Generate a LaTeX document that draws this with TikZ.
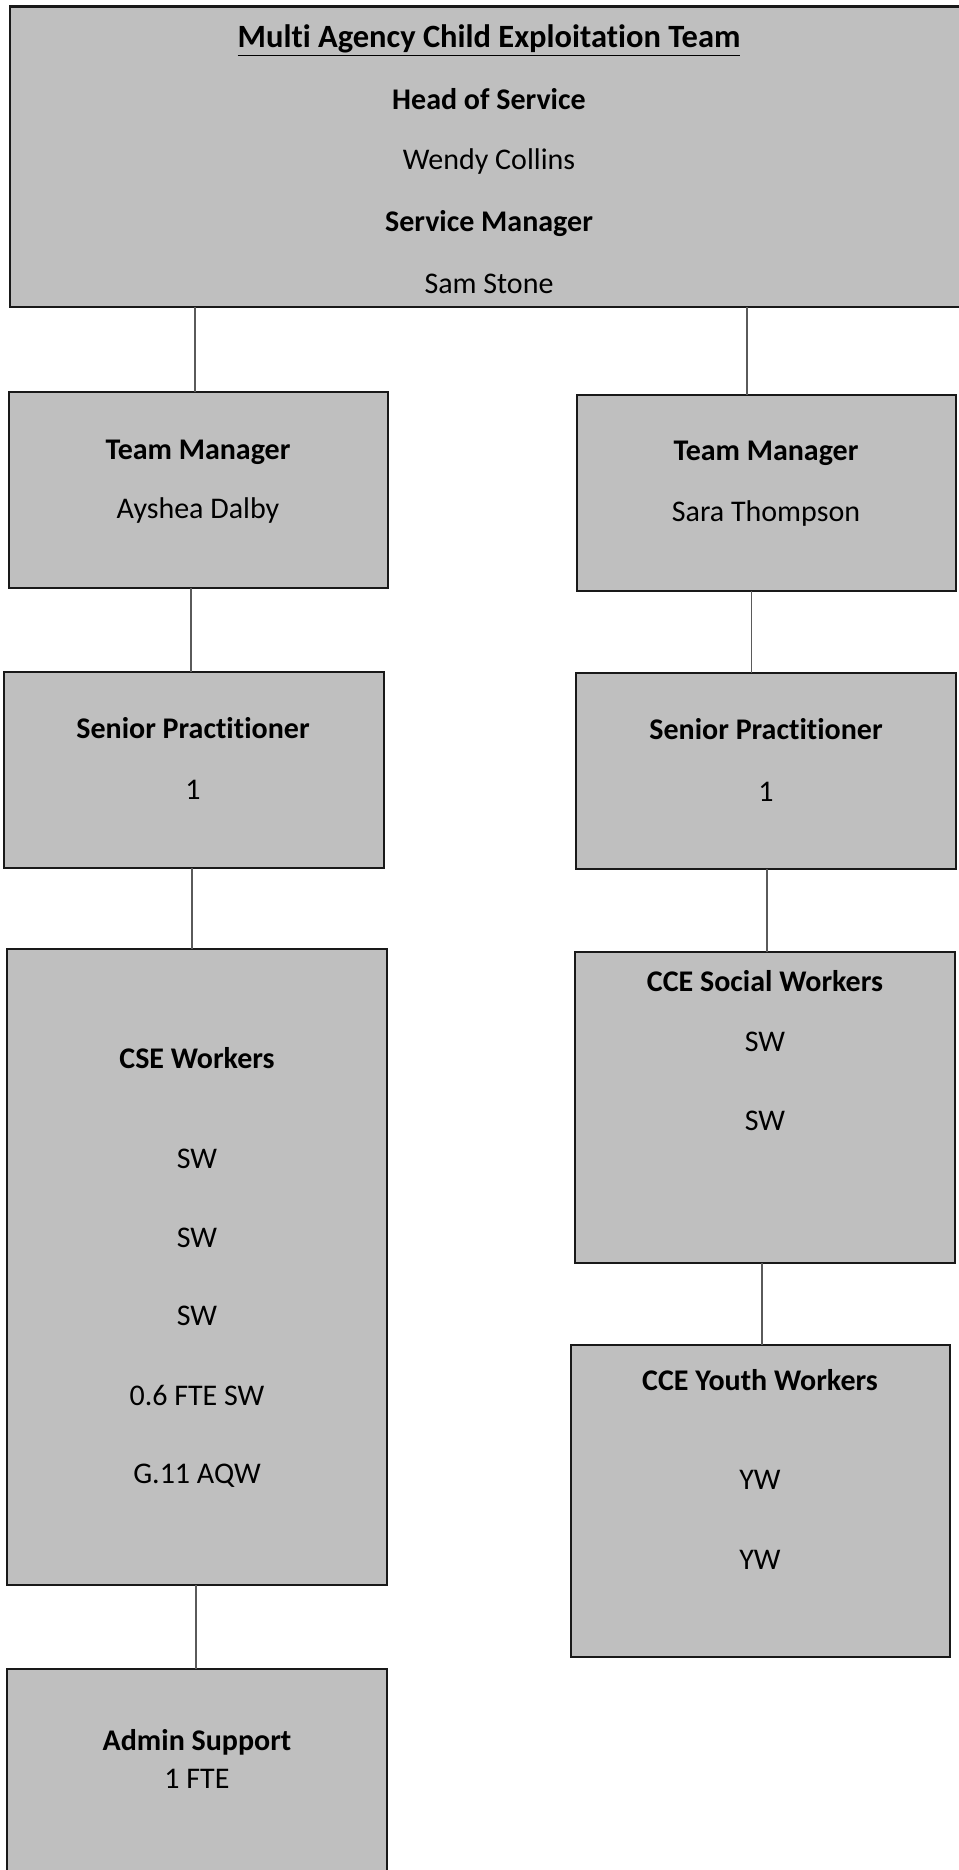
\documentclass[tikz,border=0pt]{standalone}
\usepackage{fontspec}
\setmainfont{Carlito}[Ligatures={NoCommon}]
\definecolor{boxgray}{RGB}{191,191,191}
\definecolor{linegray}{RGB}{90,90,90}
\begin{document}
\begin{tikzpicture}[x=1pt,y=-1pt,
  box/.style={draw=black!90, line width=2.4pt, fill=boxgray, inner sep=0pt, outer sep=0pt, rectangle},
  conn/.style={draw=linegray, line width=1.3pt},
  hd/.style={font=\fontsize{30}{36}\selectfont\bfseries, inner sep=0pt, anchor=base},
  ttl/.style={font=\fontsize{32.5}{38}\selectfont\bfseries, inner sep=0pt, anchor=base},
  tx/.style={font=\fontsize{30}{36}\selectfont, inner sep=0pt, anchor=base}]
\useasboundingbox[fill=white] (0,0) rectangle (958,1870);

% boxes
\node[box, minimum width=958pt, minimum height=300.5pt] (top) at (489,156.75) {};
\node[box, minimum width=379pt, minimum height=196pt] (tm1) at (198.5,490) {};
\node[box, minimum width=379pt, minimum height=196pt] (tm2) at (766.5,493) {};
\node[box, minimum width=380pt, minimum height=196pt] (sp1) at (194,770) {};
\node[box, minimum width=380pt, minimum height=196pt] (sp2) at (766,771) {};
\node[box, minimum width=380pt, minimum height=636pt] (cse) at (197,1267) {};
\node[box, minimum width=380pt, minimum height=311pt] (ccesw) at (765,1107.5) {};
\node[box, minimum width=379pt, minimum height=312pt] (yw) at (760.5,1501) {};
\node[box, minimum width=380pt, minimum height=240pt] (adm) at (197,1789) {};

% connectors
\draw[conn] ([xshift=-3.5pt]tm1.north) -- ([xshift=-3.5pt]tm1.north |- top.south);
\draw[conn] ([xshift=-19.5pt]tm2.north) -- ([xshift=-19.5pt]tm2.north |- top.south);
\draw[conn] ([xshift=-3pt]sp1.north) -- ([xshift=-3pt]sp1.north |- tm1.south);
\draw[conn] ([xshift=-14.5pt]sp2.north) -- ([xshift=-14.5pt]sp2.north |- tm2.south);
\draw[conn] ([xshift=-5pt]cse.north) -- ([xshift=-5pt]cse.north |- sp1.south);
\draw[conn] ([xshift=2pt]ccesw.north) -- ([xshift=2pt]ccesw.north |- sp2.south);
\draw[conn] ([xshift=1.5pt]yw.north) -- ([xshift=1.5pt]yw.north |- ccesw.south);
\draw[conn] ([xshift=-1pt]adm.north) -- ([xshift=-1pt]adm.north |- cse.south);

% top texts
\node[ttl] (t1) at (489,48) {\underline{Multi Agency Child Exploitation Team}};
\node[hd] (t2) at (489,110) {Head of Service};
\node[tx] (t3) at (489,170) {Wendy Collins};
\node[hd] (t4) at (489,232) {Service Manager};
\node[tx] (t5) at (489,293) {Sam Stone};

% team managers
\node[hd] (a1) at (198,459) {Team Manager};
\node[tx] (a2) at (198,518) {Ayshea Dalby};
\node[hd] (b1) at (766,460) {Team Manager};
\node[tx] (b2) at (766,521) {Sara Thompson};

% senior practitioners
\node[hd] (c1) at (193,738) {Senior Practitioner};
\node[tx] (c2) at (193,799) {1};
\node[hd] (d1) at (766,739) {Senior Practitioner};
\node[tx] (d2) at (766,801) {1};

% CSE workers
\node[hd] (e1) at (197,1068) {CSE Workers};
\node[tx] (e2) at (197,1168) {SW};
\node[tx] (e3) at (197,1247) {SW};
\node[tx] (e4) at (197,1325) {SW};
\node[tx] (e5) at (197,1405) {0.6 FTE SW};
\node[tx] (e6) at (197,1483) {G.11 AQW};

% CCE social workers
\node[hd] (f1) at (765,991) {CCE Social Workers};
\node[tx] (f2) at (765,1051) {SW};
\node[tx] (f3) at (765,1130) {SW};

% CCE youth workers
\node[hd] (g1) at (760,1390) {CCE Youth Workers};
\node[tx] (g2) at (760,1489) {YW};
\node[tx] (g3) at (760,1569) {YW};

% admin
\node[hd] (h1) at (197,1750) {Admin Support};
\node[tx] (h2) at (197,1788) {1 FTE};
\end{tikzpicture}
\end{document}
